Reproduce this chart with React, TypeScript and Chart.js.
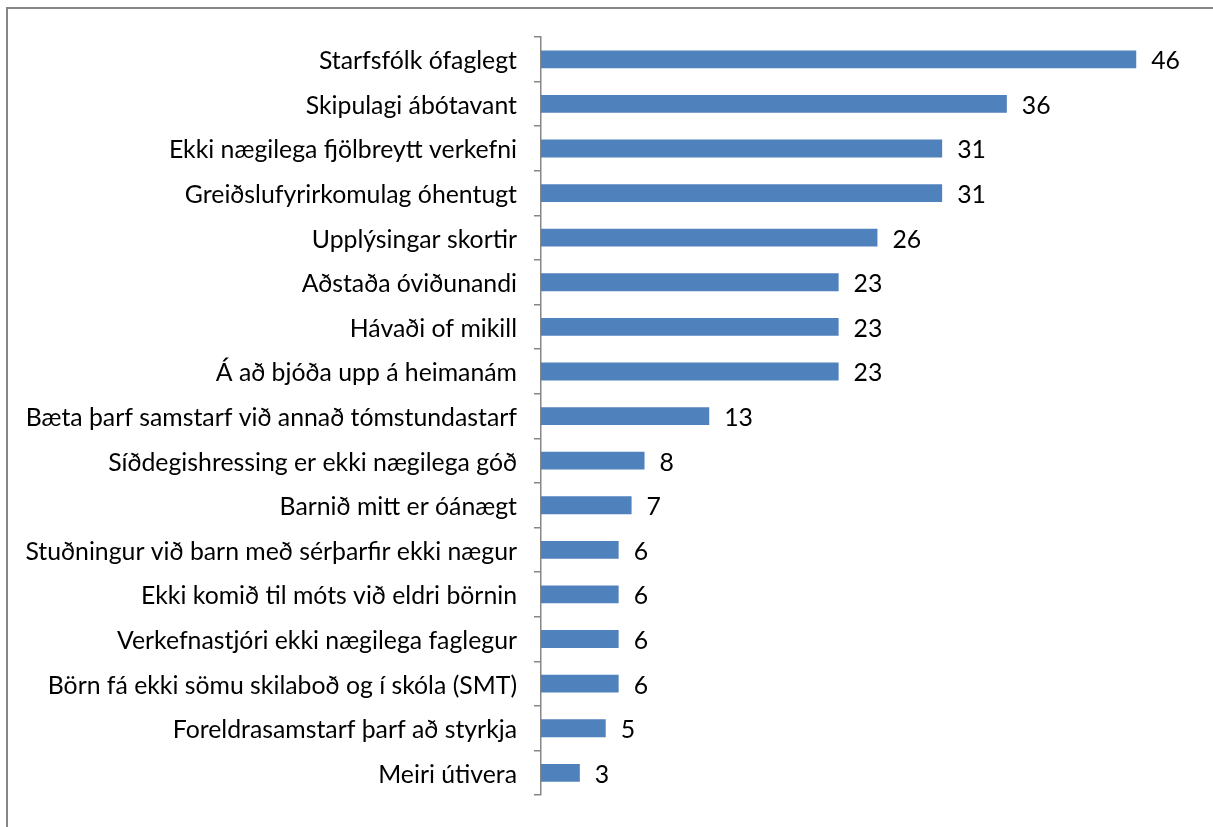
import React, { useEffect, useRef } from "react";
import { Chart, registerables } from "chart.js";

Chart.register(...registerables);

const categories: string[] = [
  "Starfsfólk ófaglegt",
  "Skipulagi ábótavant",
  "Ekki nægilega fjölbreytt verkefni",
  "Greiðslufyrirkomulag óhentugt",
  "Upplýsingar skortir",
  "Aðstaða óviðunandi",
  "Hávaði of mikill",
  "Á að bjóða upp á heimanám",
  "Bæta þarf samstarf við annað tómstundastarf",
  "Síðdegishressing er ekki nægilega góð",
  "Barnið mitt er óánægt",
  "Stuðningur við barn með sérþarfir ekki nægur",
  "Ekki komið til móts við eldri börnin",
  "Verkefnastjóri ekki nægilega faglegur",
  "Börn fá ekki sömu skilaboð og í skóla (SMT)",
  "Foreldrasamstarf þarf að styrkja",
  "Meiri útivera",
];

const values: number[] = [46, 36, 31, 31, 26, 23, 23, 23, 13, 8, 7, 6, 6, 6, 6, 5, 3];

const FONT = "Lato, 'Open Sans', sans-serif";
const FONT_SIZE = 24.8;

const valueLabels = {
  id: "valueLabels",
  afterDatasetsDraw(chart: any) {
    const ctx = chart.ctx;
    const meta = chart.getDatasetMeta(0);
    ctx.save();
    ctx.font = `${FONT_SIZE}px ${FONT}`;
    ctx.fillStyle = "#000000";
    ctx.textAlign = "left";
    ctx.textBaseline = "middle";
    meta.data.forEach((bar: any, i: number) => {
      ctx.fillText(String(values[i]), bar.x + 15, bar.y + 2);
    });
    ctx.restore();
  },
};

export default function App() {
  const canvasRef = useRef<HTMLCanvasElement | null>(null);

  useEffect(() => {
    if (!canvasRef.current) return;
    const chart = new Chart(canvasRef.current, {
      type: "bar",
      data: {
        labels: categories,
        datasets: [
          {
            data: values,
            backgroundColor: "#4f81bd",
            borderWidth: 0,
            barPercentage: 0.4,
            categoryPercentage: 1,
          },
        ],
      },
      options: {
        indexAxis: "y",
        animation: false,
        responsive: false,
        maintainAspectRatio: false,
        layout: { padding: { top: 37, bottom: 26, right: 25, left: 0 } },
        plugins: {
          legend: { display: false },
          tooltip: { enabled: false },
        },
        scales: {
          x: {
            display: false,
            min: 0,
            max: 50,
          },
          y: {
            afterFit: (scale: any) => {
              scale.width = 541;
            },
            grid: {
              drawOnChartArea: false,
              drawTicks: true,
              tickLength: 7,
              color: "#868686",
              lineWidth: 1.5,
            },
            border: { color: "#868686", width: 1.5 },
            ticks: {
              padding: 17,
              labelOffset: 2,
              color: "#000000",
              font: { family: FONT, size: FONT_SIZE },
            },
          },
        },
      },
      plugins: [valueLabels],
    });
    return () => chart.destroy();
  }, []);

  return (
    <div
      style={{
        position: "fixed",
        left: 0,
        top: 0,
        width: 1213,
        height: 827,
        background: "#ffffff",
        overflow: "hidden",
      }}
    >
      <div
        style={{
          position: "absolute",
          left: 6,
          top: 7,
          width: 1300,
          height: 900,
          borderLeft: "2px solid #868686",
          borderTop: "2px solid #868686",
        }}
      />
      <canvas
        ref={canvasRef}
        width={1213}
        height={827}
        style={{ position: "absolute", left: 0, top: 0, width: 1213, height: 827 }}
      />
    </div>
  );
}
